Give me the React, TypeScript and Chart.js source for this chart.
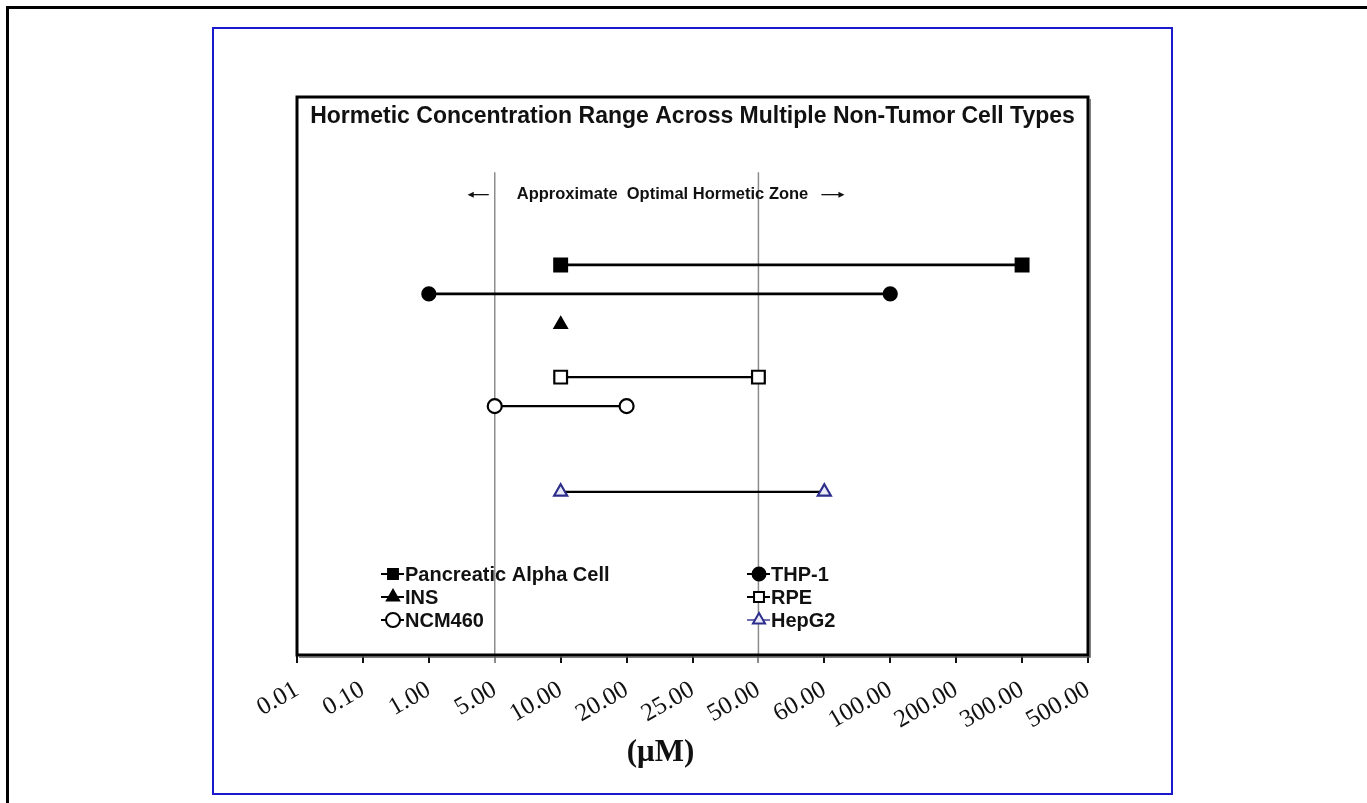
import React, { useEffect, useRef } from 'react';
import { Chart, registerables } from 'chart.js';

Chart.register(...registerables);

// ---------- data ----------
const concentrationLabels = ['0.01', '0.10', '1.00', '5.00', '10.00', '20.00', '25.00', '50.00', '60.00', '100.00', '200.00', '300.00', '500.00'];
const cellTypes = ['Pancreatic Alpha Cell', 'THP-1', 'INS', 'RPE', 'NCM460', 'HepG2'];
const rangeLow = ['10.00', '1.00', '10.00', '10.00', '5.00', '10.00'];
const rangeHigh: (string | null)[] = ['300.00', '100.00', null, '50.00', '20.00', '60.00'];
const rowPosition = [6.02, 7.06, 8.15, 10.04, 11.08, 14.15];
const zoneBounds = ['5.00', '50.00'];
const zoneLineTop = 2.7;
const rowMax = 20;
const chartTitle = 'Hormetic Concentration Range Across Multiple Non-Tumor Cell Types';
const zoneText = 'Approximate  Optimal Hormetic Zone';
const axisTitle = '(\u03bcM)';

// ---------- styles ----------
const markerStyles = ['rect', 'circle', 'triangle', 'rect', 'circle', 'triangle'];
const markerFill = ['#000000', '#000000', '#000000', '#ffffff', '#ffffff', '#ececf8'];
const markerBorder = ['#000000', '#000000', '#000000', '#000000', '#000000', '#2e2e8c'];
const markerRadius = [9, 6.5, 7, 9, 7, 7.5];
const lineWidths = [2.8, 2.8, 2, 2.2, 2.2, 2.2];
const legendLineColor = ['#000', '#000', '#000', '#000', '#000', '#7070b0'];

const SANS = '"Liberation Sans", Arial, sans-serif';
const SERIF = '"Liberation Serif", "Times New Roman", serif';

function drawMarker(ctx: CanvasRenderingContext2D, style: string, x: number, y: number, r: number, fill: string, stroke: string) {
  ctx.save();
  ctx.beginPath();
  if (style === 'rect') {
    const s = Math.SQRT1_2 * r;
    ctx.rect(x - s, y - s, 2 * s, 2 * s);
  } else if (style === 'circle') {
    ctx.arc(x, y, r, 0, Math.PI * 2);
  } else {
    const w = (r * Math.sqrt(3)) / 2;
    ctx.moveTo(x, y - r);
    ctx.lineTo(x + w, y + r / 2);
    ctx.lineTo(x - w, y + r / 2);
    ctx.closePath();
  }
  ctx.fillStyle = fill;
  ctx.fill();
  ctx.lineWidth = 2;
  ctx.strokeStyle = stroke;
  ctx.stroke();
  ctx.restore();
}

const decorPlugin = {
  id: 'decor',
  afterDraw(chart: any) {
    const { ctx, chartArea } = chart;
    const xs = chart.scales.x;
    const { left, right, top, bottom } = chartArea;
    ctx.save();
    // plot frame
    ctx.strokeStyle = '#000';
    ctx.lineWidth = 3;
    ctx.strokeRect(left, top, right - left, bottom - top);
    ctx.lineWidth = 1.5;
    ctx.strokeStyle = '#555';
    ctx.beginPath();
    ctx.moveTo(right + 2, top + 2);
    ctx.lineTo(right + 2, bottom + 2);
    ctx.lineTo(left + 2, bottom + 2);
    ctx.stroke();

    // title
    ctx.fillStyle = '#111';
    ctx.font = 'bold 23px ' + SANS;
    ctx.textAlign = 'center';
    ctx.textBaseline = 'middle';
    ctx.fillText(chartTitle, (left + right) / 2, top + 20);

    // zone annotation
    const zx1 = xs.getPixelForValue(concentrationLabels.indexOf(zoneBounds[0]));
    const zx2 = xs.getPixelForValue(concentrationLabels.indexOf(zoneBounds[1]));
    const zy = chart.scales.y.getPixelForValue(3.5);
    ctx.font = 'bold 16.5px ' + SANS;
    ctx.textAlign = 'left';
    ctx.fillText(zoneText, zx1 + 22, zy);
    ctx.strokeStyle = '#111';
    ctx.lineWidth = 1.3;
    // left arrow
    ctx.beginPath();
    ctx.moveTo(zx1 - 26, zy);
    ctx.lineTo(zx1 - 6, zy);
    ctx.stroke();
    ctx.beginPath();
    ctx.moveTo(zx1 - 27, zy);
    ctx.lineTo(zx1 - 21, zy - 3);
    ctx.lineTo(zx1 - 21, zy + 3);
    ctx.closePath();
    ctx.fill();
    // right arrow
    ctx.beginPath();
    ctx.moveTo(zx2 + 63, zy);
    ctx.lineTo(zx2 + 84, zy);
    ctx.stroke();
    ctx.beginPath();
    ctx.moveTo(zx2 + 86, zy);
    ctx.lineTo(zx2 + 80, zy - 3);
    ctx.lineTo(zx2 + 80, zy + 3);
    ctx.closePath();
    ctx.fill();

    // legend
    ctx.font = 'bold 20px ' + SANS;
    ctx.textBaseline = 'middle';
    cellTypes.forEach((name, i) => {
      const col = i % 2;
      const row = Math.floor(i / 2);
      const lx = left + (col === 0 ? 84 : 450);
      const ly = top + 477 + row * 23;
      ctx.strokeStyle = legendLineColor[i];
      ctx.lineWidth = 2;
      ctx.beginPath();
      ctx.moveTo(lx, ly);
      ctx.lineTo(lx + 23, ly);
      ctx.stroke();
      drawMarker(ctx, markerStyles[i], lx + 12, ly, Math.min(markerRadius[i], 7), markerFill[i], markerBorder[i]);
      ctx.fillStyle = '#111';
      ctx.fillText(name, lx + 24, ly + 1);
    });

    // axis title
    ctx.font = 'bold 31px ' + SERIF;
    ctx.textAlign = 'center';
    ctx.fillStyle = '#111';
    ctx.fillText(axisTitle, (left + right) / 2 - 32, bottom + 98);
    ctx.restore();
  },
};

export default function App() {
  const ref = useRef<HTMLCanvasElement>(null);
  useEffect(() => {
    if (!ref.current) return;
    const datasets: any[] = cellTypes.map((name, i) => ({
      label: name,
      data: [rangeLow[i], rangeHigh[i]]
        .filter((v) => v !== null)
        .map((v) => ({ x: v, y: rowPosition[i] })),
      borderColor: '#000',
      borderWidth: lineWidths[i],
      pointStyle: markerStyles[i],
      pointRadius: markerRadius[i],
      pointBackgroundColor: markerFill[i],
      pointBorderColor: markerBorder[i],
      pointBorderWidth: 2.2,
      showLine: true,
      order: 1,
    }));
    zoneBounds.forEach((b) =>
      datasets.push({
        label: 'zone ' + b,
        data: [
          { x: b, y: zoneLineTop },
          { x: b, y: rowMax },
        ],
        borderColor: '#8c8c8c',
        borderWidth: 1.5,
        pointRadius: 0,
        order: 10,
      })
    );

    const chart = new Chart(ref.current, {
      type: 'line',
      data: { labels: concentrationLabels, datasets },
      options: {
        responsive: false,
        animation: false,
        devicePixelRatio: 1,
        layout: { padding: { left: 83, right: 83, top: 68, bottom: 0 } },
        plugins: { legend: { display: false }, tooltip: { enabled: false }, title: { display: false } },
        scales: {
          x: {
            type: 'category',
            offset: false,
            border: { display: false },
            grid: {
              drawOnChartArea: false,
              drawTicks: true,
              tickLength: 8,
              lineWidth: 2,
              color: (c: any) => (zoneBounds.includes(concentrationLabels[c.index]) ? '#8c8c8c' : '#111'),
            },
            ticks: {
              autoSkip: false,
              minRotation: 30,
              maxRotation: 30,
              padding: 12,
              color: '#111',
              font: { family: SERIF, size: 25 },
            },
            afterFit: (scale: any) => {
              scale.height = 138;
            },
          },
          y: {
            type: 'linear',
            display: false,
            min: 0,
            max: rowMax,
            reverse: true,
          },
        },
      },
      plugins: [decorPlugin],
    });
    return () => chart.destroy();
  }, []);

  return (
    <div>
      <div
        style={{
          position: 'absolute',
          left: 6,
          top: 6,
          width: 1361,
          height: 797,
          borderTop: '3px solid #000',
          borderLeft: '3px solid #000',
          boxSizing: 'border-box',
        }}
      />
      <div
        style={{
          position: 'absolute',
          left: 212,
          top: 27,
          width: 961,
          height: 768,
          border: '2px solid #1a1acc',
          boxSizing: 'border-box',
          background: '#fff',
        }}
      >
        <canvas ref={ref} width={957} height={764} style={{ display: 'block', width: 957, height: 764 }} />
      </div>
    </div>
  );
}
